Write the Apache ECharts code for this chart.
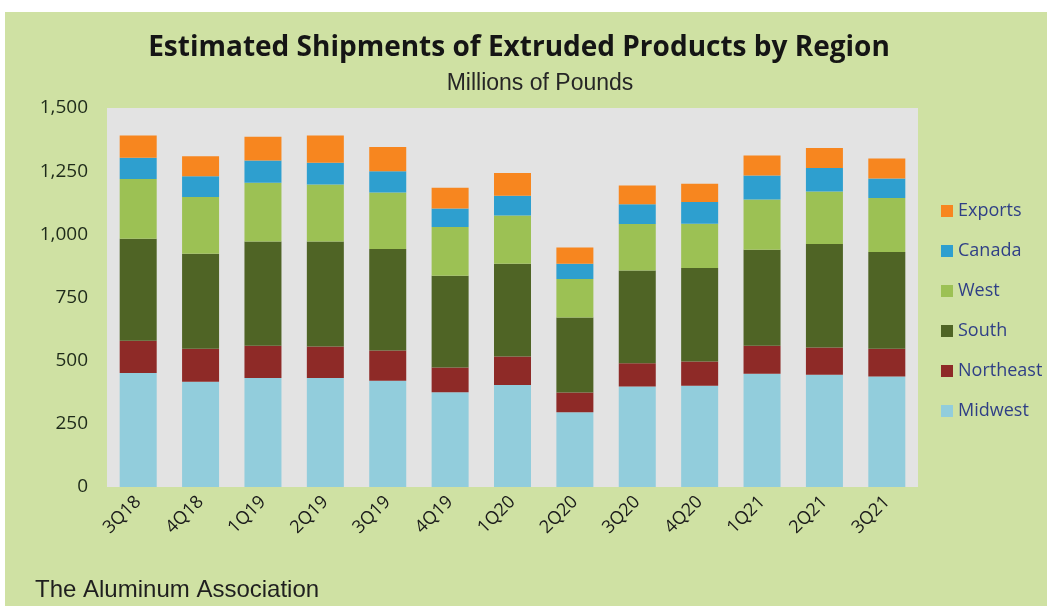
<!DOCTYPE html>
<html>
<head>
<meta charset="utf-8">
<script src="https://cdn.jsdelivr.net/npm/echarts@6/dist/echarts.min.js"></script>
<style>
html,body{margin:0;padding:0;background:#fff;}
#chart{width:1047px;height:606px;}
</style>
</head>
<body>
<div id="chart"></div>
<script>
const categories = ['3Q18','4Q18','1Q19','2Q19','3Q19','4Q19','1Q20','2Q20','3Q20','4Q20','1Q21','2Q21','3Q21'];
const midwest   = [451, 417, 431, 431, 421, 375, 404, 296, 398, 401, 448, 444, 437];
const northeast = [128, 130, 128, 125, 119,  98, 112,  78,  92,  96, 111, 108, 110];
const south     = [404, 376, 413, 416, 402, 363, 368, 297, 367, 370, 380, 410, 383];
const west      = [236, 225, 232, 225, 224, 193, 191, 152, 184, 175, 199, 208, 214];
const canada    = [ 84,  82,  88,  86,  84,  73,  78,  61,  78,  86,  95,  93,  77];
const exportsS  = [ 88,  79,  94, 108,  96,  82,  90,  64,  74,  72,  79,  79,  79];
const yTicks = [0, 250, 500, 750, 1000, 1250, 1500];

const seriesDefs = [
  {name:'Midwest', data:midwest, color:'#92cddc'},
  {name:'Northeast', data:northeast, color:'#8e2a27'},
  {name:'South', data:south, color:'#4f6425'},
  {name:'West', data:west, color:'#9cc154'},
  {name:'Canada', data:canada, color:'#2e9fcf'},
  {name:'Exports', data:exportsS, color:'#f7861f'}
];

const chart = echarts.init(document.getElementById('chart'), null, {renderer:'canvas'});
chart.setOption({
  backgroundColor:'#ffffff',
  animation:false,
  graphic:[
    {type:'rect', z:-10, shape:{x:5,y:12,width:1042,height:594}, style:{fill:'#cfe1a3'}},
    {type:'text', z:10, style:{x:519, y:48, text:'Estimated Shipments of Extruded Products by Region', textAlign:'center', textVerticalAlign:'middle', fill:'#151515', font:'bold 28px "Open Sans", sans-serif'}},
    {type:'text', z:10, style:{x:540, y:84, text:'Millions of Pounds', textAlign:'center', textVerticalAlign:'middle', fill:'#262626', font:'23px "Liberation Sans", Arial, sans-serif'}},
    {type:'text', z:10, style:{x:35, y:590, text:'The Aluminum Association', textAlign:'left', textVerticalAlign:'middle', fill:'#1f1f1f', font:'24px "Liberation Sans", Arial, sans-serif'}}
  ],
  grid:{left:107, top:108, width:811, height:379, show:true, backgroundColor:'#e3e3e3', borderWidth:0, containLabel:false},
  legend:{
    orient:'vertical', left:941, top:202, padding:0, itemGap:22, itemWidth:12, itemHeight:12,
    icon:'rect',
    data:['Exports','Canada','West','South','Northeast','Midwest'],
    textStyle:{color:'#2f3f86', fontSize:18, fontFamily:'"Open Sans", sans-serif'}
  },
  xAxis:{
    type:'category', data:categories,
    axisLine:{show:false}, axisTick:{show:false},
    axisLabel:{rotate:45, margin:12, color:'#1a1a1a', fontSize:18, fontFamily:'"Open Sans", sans-serif', interval:0}
  },
  yAxis:{
    type:'value', min:0, max:1500, interval:250,
    axisLine:{show:false}, axisTick:{show:false}, splitLine:{show:false},
    axisLabel:{margin:19, color:'#1e2a1a', fontSize:19, fontFamily:'"Open Sans", sans-serif',
      formatter:function(v){return v.toLocaleString('en-US');}}
  },
  series: seriesDefs.map(s => ({
    name:s.name, type:'bar', stack:'total', data:s.data, barWidth:37,
    itemStyle:{color:s.color}
  }))
});
</script>
</body>
</html>
